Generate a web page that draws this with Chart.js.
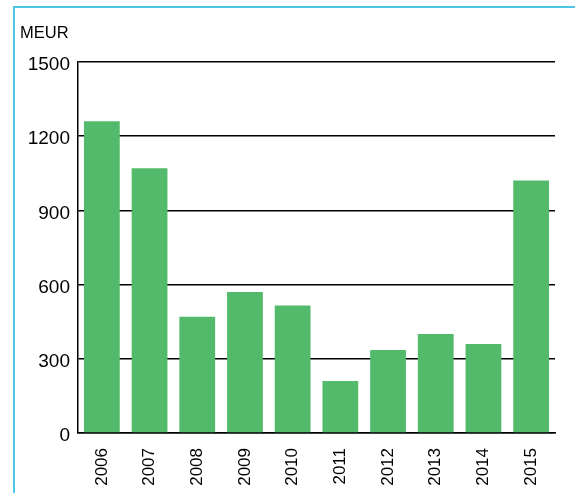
<!DOCTYPE html>
<html>
<head>
<meta charset="utf-8">
<script src="https://cdn.jsdelivr.net/npm/chart.js@4/dist/chart.umd.min.js"></script>
<style>
  html, body { margin: 0; padding: 0; background: #fff; }
  #frame {
    position: absolute; left: 13px; top: 6px;
    width: 560px; height: 487px;
    border-left: 2px solid #4fc6e6;
    border-top: 2px solid #4fc6e6;
  }
  #wrap { position: absolute; left: 0; top: 0; width: 560px; height: 485px; }
</style>
</head>
<body>
<div id="frame"><div id="wrap"><canvas id="myChart"></canvas></div></div>
<script>
var years = ["2006", "2007", "2008", "2009", "2010", "2011", "2012", "2013", "2014", "2015"];
var meur = [1260, 1070, 470, 570, 515, 210, 335, 400, 360, 1020];
var yTicks = [0, 300, 600, 900, 1200, 1500];

Chart.defaults.font.family = "'Liberation Sans', Arial, sans-serif";
Chart.defaults.color = "#000";

new Chart("myChart", {
  type: "bar",
  data: {
    labels: years,
    datasets: [{
      data: meur,
      backgroundColor: "#52ba6a",
      barPercentage: 0.75,
      categoryPercentage: 1.0
    }]
  },
  options: {
    responsive: true,
    maintainAspectRatio: false,
    animation: false,
    layout: { padding: { left: 5, right: 20, top: 0, bottom: 0 } },
    plugins: {
      legend: { display: false },
      tooltip: { enabled: false },
      title: {
        display: true,
        text: "MEUR",
        align: "start",
        color: "#000",
        font: { size: 16.5, weight: "normal" },
        padding: { top: 16, bottom: 18 }
      }
    },
    scales: {
      x: {
        grid: { display: false },
        border: { display: true, color: "#000", width: 1.5 },
        ticks: {
          minRotation: 90, maxRotation: 90,
          padding: 7,
          font: { size: 17 }
        },
        afterFit: function (s) { s.height = 60; }
      },
      y: {
        min: 0, max: 1500,
        afterBuildTicks: function (s) { s.ticks = yTicks.map(function (v) { return { value: v }; }); },
        grid: { color: "#000", lineWidth: 1.5, drawTicks: false },
        border: { display: true, color: "#000", width: 1.5 },
        ticks: {
          padding: 8,
          labelOffset: 3,
          font: { size: 19 },
          callback: function (v) { return String(v); }
        },
        afterFit: function (s) { s.width = 58; }
      }
    }
  }
});
</script>
</body>
</html>
